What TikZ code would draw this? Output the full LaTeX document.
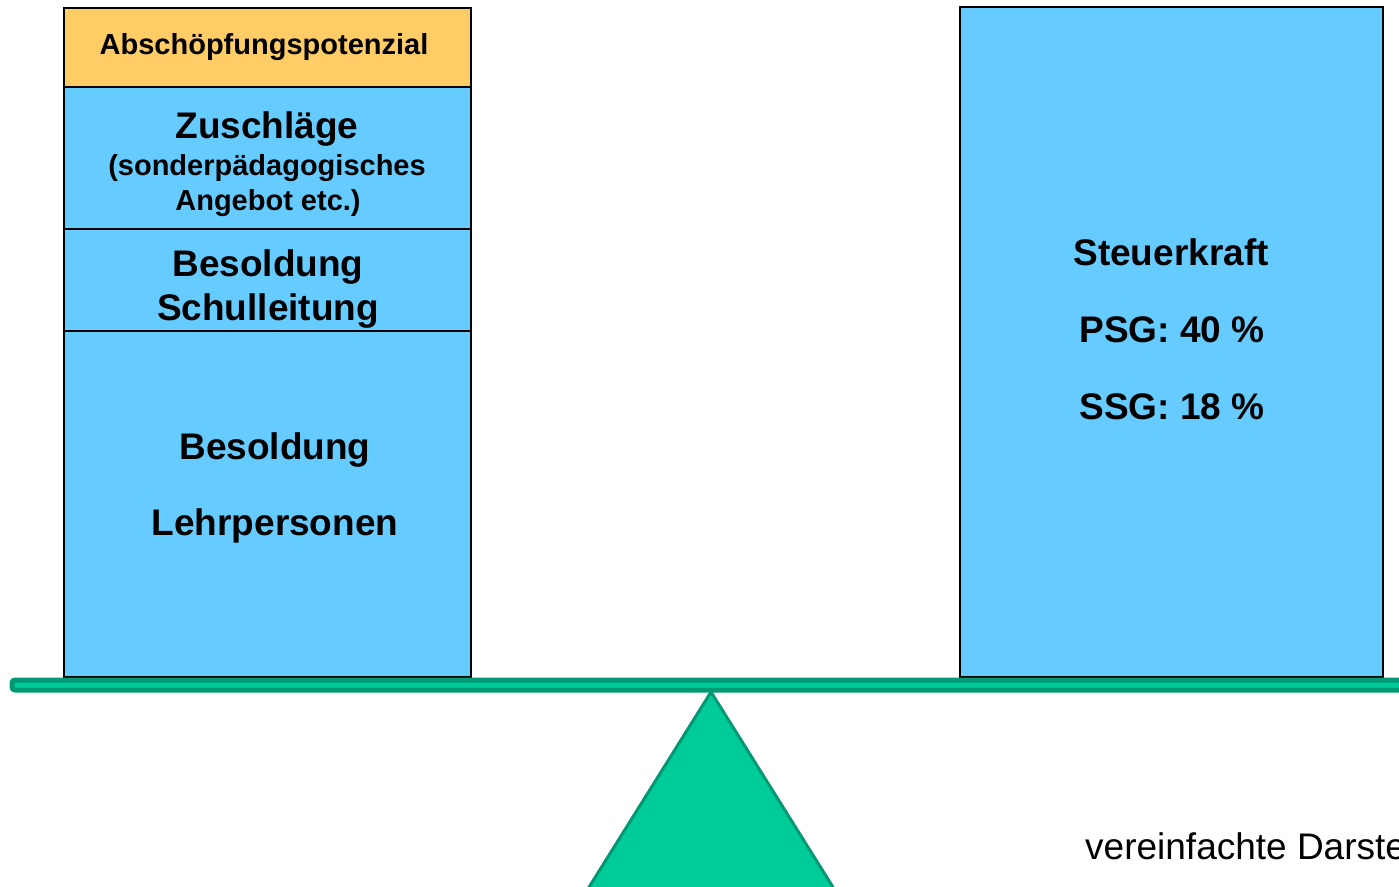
\documentclass[tikz,border=0pt]{standalone}
\usepackage{fontspec}
\setmainfont{Liberation Sans}
\usetikzlibrary{positioning}
\definecolor{pvBlue}{HTML}{66CCFF}
\definecolor{pvOrange}{HTML}{FFCC66}
\definecolor{pvGreen}{HTML}{00CC99}
\definecolor{pvGreenDark}{HTML}{009973}
\tikzset{
    pvBox/.style={
        rectangle,
        draw=black,
        line width=1.5pt,
        fill=pvBlue,
        minimum width=407pt,
        inner sep=0pt,
        outer sep=0pt,
        anchor=north west
    },
    pvBig/.style={font=\fontsize{37}{40}\selectfont\bfseries, inner sep=0pt},
    pvSmall/.style={font=\fontsize{29}{34}\selectfont\bfseries, inner sep=0pt},
    pvNote/.style={font=\fontsize{37}{40}\selectfont, inner sep=0pt, anchor=west},
    % scale parts
    pvBeam/.style={draw=pvGreenDark, fill=pvGreen, line width=5pt, rounded corners=3pt},
    pvFoot/.style={draw=pvGreenDark, fill=pvGreen, line width=3pt, line join=miter}
}

\begin{document}
\begin{tikzpicture}[x=1pt, y=-1pt]
\useasboundingbox (0,0) rectangle (1399,886);
\clip (0,0) rectangle (1399,886);

% left pan
\node[pvBox, fill=pvOrange, minimum height=79pt] (abs) at (64,8) {};
\node[pvBox, minimum height=142pt, below=0pt of abs] (zus) {};
\node[pvBox, minimum height=102pt, below=0pt of zus] (schul) {};
\node[pvBox, minimum height=346pt, below=0pt of schul] (lehr) {};

% right pan
\node[pvBox, minimum width=423pt, minimum height=670pt] (steuer) at (960,7) {};

% labels
\node[pvSmall] (absText) at (264,47) {Abschöpfungspotenzial};
\node[pvBig] (zusText) at (267,129) {Zuschläge};
\node[pvSmall] (zusTextA) at (267,168) {(sonderpädagogisches};
\node[pvSmall] (zusTextB) at (268,203) {Angebot etc.)};
\node[pvBig] (schulTextA) at (268,267) {Besoldung};
\node[pvBig] (schulTextB) at (268,311) {Schulleitung};
\node[pvBig] (lehrTextA) at (275,450) {Besoldung};
\node[pvBig] (lehrTextB) at (275,526) {Lehrpersonen};
\node[pvBig] (steuerText) at (1171,252) {Steuerkraft};
\node[pvBig] (psgText) at (1172,330) {PSG: 40 \%};
\node[pvBig] (ssgText) at (1172,407) {SSG: 18 \%};

% scale
\draw[pvFoot] (581,900) -- (711,692) -- (841,900) -- cycle;
\draw[pvBeam] (12,680) rectangle (1430,690);

\node[pvNote] (note) at (1085,850) {vereinfachte Darstellung};
\end{tikzpicture}
\end{document}
